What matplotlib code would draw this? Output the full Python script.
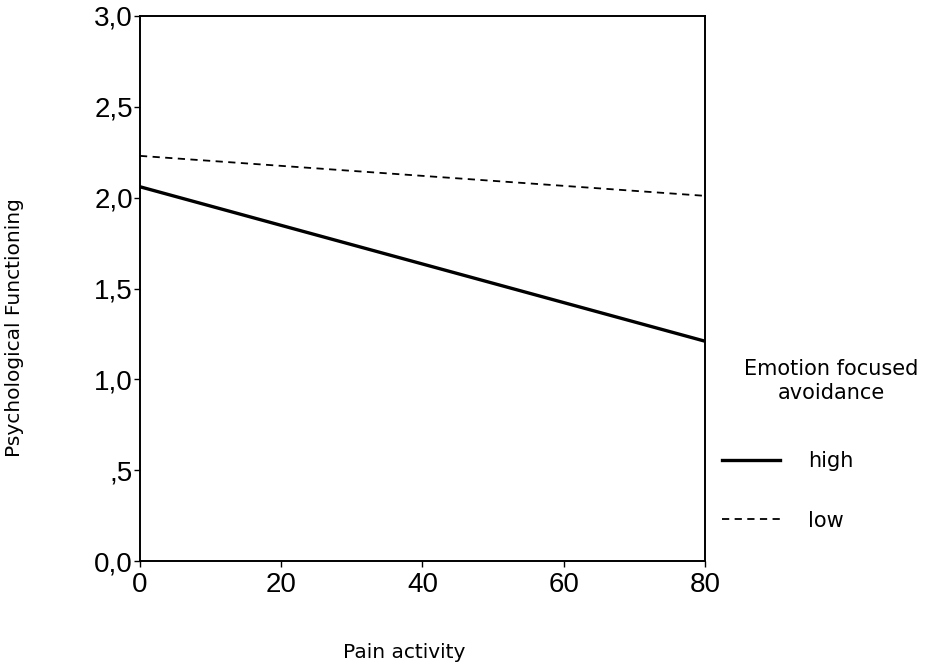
import matplotlib
matplotlib.use("Agg")
import matplotlib.pyplot as plt
from matplotlib.ticker import FixedLocator, FixedFormatter

# Data
painActivity = [0, 80]
highAvoid = [2.06, 1.21]
lowAvoid = [2.23, 2.01]
yTicks = [0.0, 0.5, 1.0, 1.5, 2.0, 2.5, 3.0]
yTickLabels = ["0,0", ",5", "1,0", "1,5", "2,0", "2,5", "3,0"]
xTicks = [0, 20, 40, 60, 80]

fig = plt.figure(figsize=(9.3, 6.63), dpi=100)
ax = fig.add_axes([0.1505, 0.1538, 0.6075, 0.8221])

ax.plot(painActivity, highAvoid, linestyle='-', color='black', linewidth=2.4, label="high")
ax.plot(painActivity, lowAvoid, linestyle=(0, (4, 3)), color='black', linewidth=1.3, label="low")

ax.set_xlim(0, 80)
ax.set_ylim(0, 3.0)
ax.xaxis.set_major_locator(FixedLocator(xTicks))
ax.yaxis.set_major_locator(FixedLocator(yTicks))
ax.yaxis.set_major_formatter(FixedFormatter(yTickLabels))
for lab in ax.get_xticklabels() + ax.get_yticklabels():
    lab.set_fontfamily("Liberation Sans")
ax.tick_params(axis='both', which='major', labelsize=20, length=4, width=1, pad=1)
ax.tick_params(axis='x', pad=4)
for s in ax.spines.values():
    s.set_linewidth(1.4)

ax.set_xlabel("Pain activity", fontsize=14.5, family="DejaVu Sans")
ax.set_ylabel("Psychological Functioning", fontsize=14.5, family="DejaVu Sans")
# label positions in axes coords (matched to reference)
ax.xaxis.set_label_coords((404 - 140) / 565, -(652 - 561) / 545)
ax.yaxis.set_label_coords(-(140 - 15) / 565, (561 - 328) / 545)
ax.xaxis.label.set_va('center')
ax.yaxis.label.set_va('center')

# legend title drawn separately so it can sit right of the handles
fig.text(831 / 930, 1 - 381 / 663, "Emotion focused\navoidance", ha='center', va='center',
         fontsize=15, family="DejaVu Sans", linespacing=1.2, multialignment='center')
leg = ax.legend(loc='upper left', bbox_to_anchor=(722 / 930, 1 - 451 / 663),
                bbox_transform=fig.transFigure, frameon=False, fontsize=15,
                handlelength=2.8, handletextpad=1.35, labelspacing=1.9,
                borderpad=0, borderaxespad=0)

fig.savefig("out.png", dpi=100)
plt.close(fig)
